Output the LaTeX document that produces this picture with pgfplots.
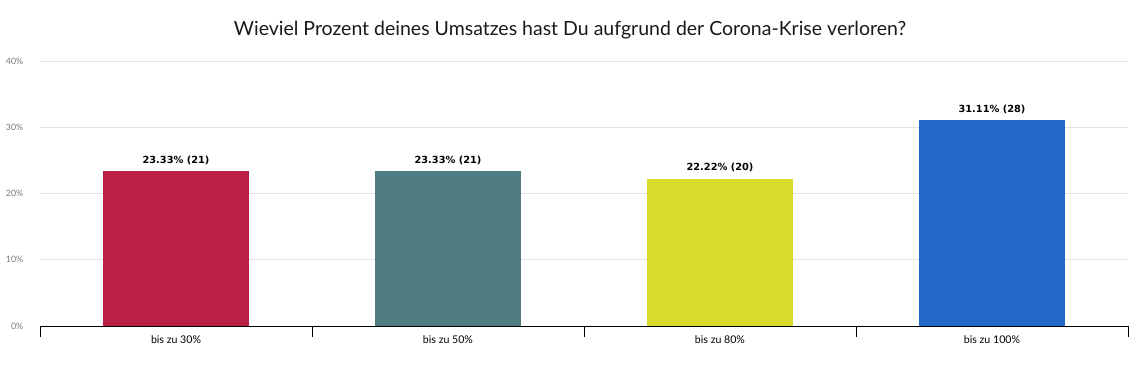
\documentclass[border=0pt]{standalone}
\usepackage{pgfplots}
\pgfplotsset{compat=1.18}
\usepackage{fontspec}
\setmainfont{Lato}
\newfontfamily\labelfont{DejaVu Sans}

\definecolor{barA}{RGB}{185,32,67}
\definecolor{barB}{RGB}{80,123,128}
\definecolor{barC}{RGB}{217,219,42}
\definecolor{barD}{RGB}{35,103,200}
\definecolor{gridgray}{RGB}{226,226,226}
\definecolor{ticklabelgray}{RGB}{120,120,120}

\begin{document}
\begin{tikzpicture}
\path[use as bounding box] (0,0) rectangle (1139bp,376bp);
\node[font=\fontsize{19.5bp}{22bp}\selectfont, text=black!90] at (570bp,346bp)
  {Wieviel Prozent deines Umsatzes hast Du aufgrund der Corona-Krise verloren?};
\begin{axis}[
  at={(40bp,50bp)}, anchor=south west,
  scale only axis, width=1088bp, height=265bp,
  xmin=-0.5, xmax=3.5, ymin=0, ymax=40,
  axis x line*=bottom, axis y line*=left,
  y axis line style={draw=none},
  x axis line style={black, line width=0.8pt, -},
  xtick={0,1,2,3},
  xticklabels={bis zu 30\%, bis zu 50\%, bis zu 80\%, bis zu 100\%},
  minor xtick={-0.5,0.5,1.5,2.5,3.5},
  major x tick style={draw=none},
  minor x tick style={draw=black, line width=0.8pt},
  minor tick length=11bp, tick align=outside,
  x tick label style={font=\fontsize{10.6bp}{12bp}\selectfont, yshift=-2bp},
  ytick={0,10,20,30,40},
  yticklabels={0\%,10\%,20\%,30\%,40\%},
  y tick style={draw=none},
  y tick label style={font=\fontsize{8.8bp}{10bp}\selectfont, text=ticklabelgray, xshift=-9bp},
  ymajorgrids, grid style={gridgray, line width=0.8pt},
  ybar, bar width=146bp, bar shift=0pt,
  nodes near coords={\pgfplotspointmeta},
  point meta=explicit symbolic,
  every node near coord/.append style={font=\labelfont\bfseries\fontsize{9.8bp}{12bp}\selectfont, text=black, yshift=3bp},
]
\addplot[fill=barA, draw=none] coordinates {(0,23.33) [23.33\% (21)]};
\addplot[fill=barB, draw=none] coordinates {(1,23.33) [23.33\% (21)]};
\addplot[fill=barC, draw=none] coordinates {(2,22.22) [22.22\% (20)]};
\addplot[fill=barD, draw=none] coordinates {(3,31.11) [31.11\% (28)]};
\end{axis}
\end{tikzpicture}
\end{document}
